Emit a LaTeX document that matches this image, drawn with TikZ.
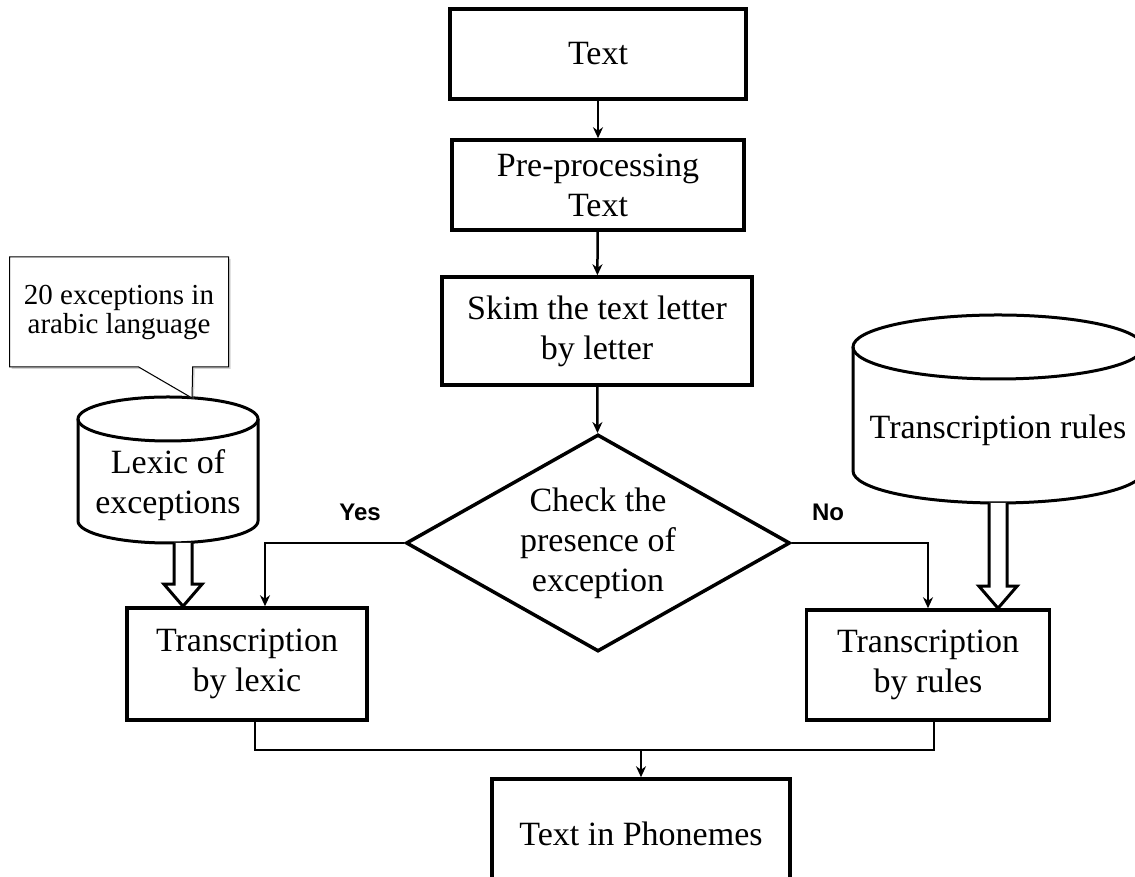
\documentclass[tikz,border=0pt]{standalone}
\usepackage{fontspec}
\setmainfont{Liberation Serif}
\newfontfamily\sansbold{Liberation Sans}
\usetikzlibrary{shapes.geometric, shapes.callouts, shadows, arrows.meta, calc}

\tikzset{
  stepbox/.style={draw, line width=3.5pt, align=center, inner sep=0pt,
    font=\fontsize{34}{40}\selectfont},
  dbtext/.style={align=center, inner sep=0pt, font=\fontsize{34}{40}\selectfont},
  can/.style={line width=3pt},
  wire/.style={line width=2.5pt},
  fat/.style={line width=3pt, fill=white},
  answer/.style={font=\sansbold\bfseries\fontsize{24}{26}\selectfont}
}

% can outline around a text node: node, x radius, y radius, top offset, bottom offset
\newcommand{\dbcan}[5]{%
  \draw[can] ($(#1.center)+(0,#4)$) ellipse[x radius=#2, y radius=#3];
  \draw[can] ($(#1.center)+(-#2,#4)$) -- ($(#1.center)+(-#2,#5)$)
    arc[start angle=180, end angle=360, x radius=#2, y radius=#3]
    -- ($(#1.center)+(#2,#4)$);
}
% hollow block arrow
\newcommand{\fatarrow}[2]{%
  \draw[fat] ($(#1)+(-9,0)$) -- ($(#2)+(-9,22)$) -- ($(#2)+(-19,22)$) -- (#2)
    -- ($(#2)+(19,22)$) -- ($(#2)+(9,22)$) -- ($(#1)+(9,0)$);
}

\begin{document}
\begin{tikzpicture}[x=1pt, y=1pt]
  \useasboundingbox (0,0) rectangle (1135,877);

  % main column
  \node[stepbox, minimum width=296pt, minimum height=90pt] (txt) at (598,823) {Text};
  \node[stepbox, minimum width=292pt, minimum height=90pt] (prep) at (598,692) {Pre-processing\\Text};
  \node[stepbox, minimum width=310pt, minimum height=108pt] (skim) at (597,546) {Skim the text letter\\by letter};
  \node[diamond, draw, line width=3.5pt, aspect=1.77, inner sep=0pt,
        minimum width=384pt, minimum height=217pt, align=center,
        font=\fontsize{34}{40}\selectfont] (check) at (598,334) {Check the\\presence of\\exception};
  \node[stepbox, minimum width=240pt, minimum height=112pt] (lexbox) at (247,213) {Transcription\\by lexic};
  \node[stepbox, minimum width=243pt, minimum height=110pt] (rulebox) at (928,212) {Transcription\\by rules};
  \node[stepbox, minimum width=298pt, minimum height=110pt] (outbox) at (641,43) {Text in Phonemes};

  % databases
  \node[dbtext] (lexdb) at (168,392) {Lexic of\\exceptions};
  \dbcan{lexdb}{90}{22}{66}{-36}
  \node[dbtext] (ruledb) at (998,447) {Transcription rules};
  \dbcan{ruledb}{145}{32}{83}{-41}

  % note
  \coordinate (lextip) at ($(lexdb.center)+(24,87)$);
  \node[rectangle callout, draw, line width=1pt, fill=white, align=center,
        callout absolute pointer={(lextip)}, callout pointer width=54pt,
        minimum width=219pt, minimum height=110pt, inner sep=0pt,
        drop shadow={shadow xshift=2pt, shadow yshift=-2pt, opacity=0.35},
        font=\fontsize{29}{29}\selectfont] (note) at (119,565) {20 exceptions in\\arabic language};

  % flow
  \draw[wire, -{Stealth[length=11pt, width=10pt]}] (txt) -- (prep);
  \draw[wire, -{Stealth[length=11pt, width=10pt]}] (prep) -- (skim);
  \draw[wire, -{Stealth[length=11pt, width=10pt]}] (skim) -- (check);
  \draw[wire, -{Stealth[length=11pt, width=10pt]}] (check.west) -| ($(lexbox.north)+(18,0)$);
  \draw[wire, -{Stealth[length=11pt, width=10pt]}] (check.east) -| (rulebox.north);
  \node[answer] (yes) at (360,365) {Yes};
  \node[answer] (no) at (828,365) {No};

  \coordinate (lexfoot) at ($(lexdb.center)+(15,-58)$);
  \coordinate (lexhead) at (lexfoot |- lexbox.north);
  \fatarrow{lexfoot}{lexhead}
  \coordinate (rulefoot) at ($(ruledb.center)+(0,-73)$);
  \coordinate (rulehead) at (rulefoot |- rulebox.north);
  \fatarrow{rulefoot}{rulehead}

  \coordinate (join) at (outbox.north |- 0,127);
  \draw[wire] ($(lexbox.south)+(8,0)$) |- (join) -| ($(rulebox.south)+(6,0)$);
  \draw[wire, -{Stealth[length=11pt, width=10pt]}] (join) -- (outbox.north);
\end{tikzpicture}
\end{document}
